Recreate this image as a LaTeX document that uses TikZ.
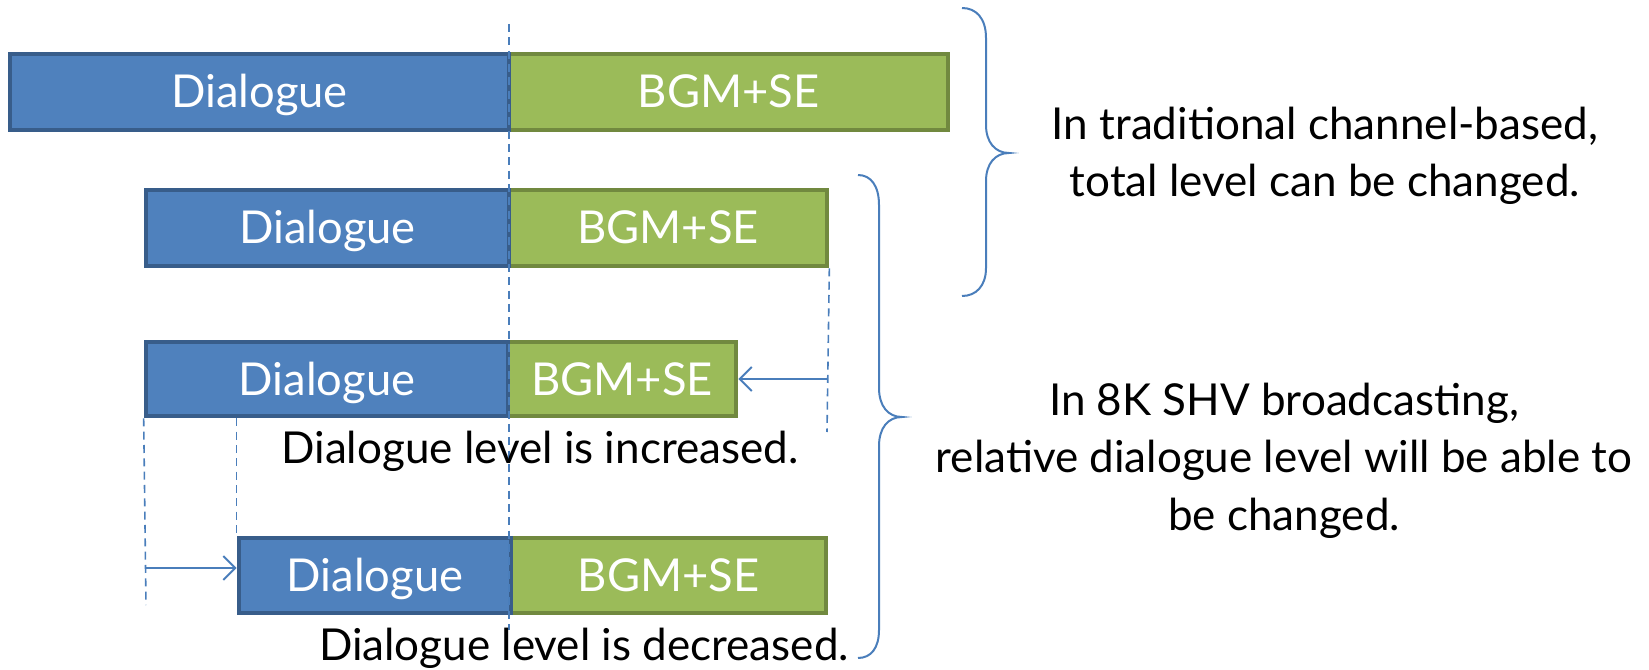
\documentclass[tikz,border=0pt]{standalone}
\usepackage{fontspec}
\setmainfont{Lato}
\usetikzlibrary{arrows.meta}
\definecolor{dlgfill}{HTML}{4F81BD}
\definecolor{dlgline}{HTML}{385D8A}
\definecolor{bgmfill}{HTML}{9BBB59}
\definecolor{bgmline}{HTML}{71893F}
\definecolor{guide}{HTML}{4A7EBB}
\begin{document}
\begin{tikzpicture}[x=0.75pt,y=-0.75pt,
 barsize/.style 2 args={minimum width=#1*0.75pt, minimum height=#2*0.75pt},
 barbase/.style={draw, rectangle, line width=3.5pt, inner sep=0pt, text=white, font=\fontsize{34}{40}\selectfont, text height=24pt, text depth=0pt},
 dlgbar/.style={barbase, fill=dlgfill, draw=dlgline},
 bgmbar/.style={barbase, fill=bgmfill, draw=bgmline},
 guideline/.style={draw=guide, line width=1.2pt, dash pattern=on 6pt off 4pt},
 pointer/.style={draw=guide, line width=1.5pt, -{Straight Barb[length=9pt,width=18pt]}},
 bracket/.style={draw=guide, line width=1.5pt},
 caption/.style={font=\fontsize{33}{43}\selectfont, anchor=base, align=center}
]
\useasboundingbox (0,0) rectangle (1649,670);
% bars
\node[bgmbar, barsize={439}{76}] (g1) at (728.5,92) {BGM+SE};
\node[dlgbar, barsize={499}{76}] (d1) at (259.5,92) {Dialogue};
\node[bgmbar, barsize={318}{76}] (g2) at (668,228) {BGM+SE};
\node[dlgbar, barsize={363}{76}] (d2) at (327.5,228) {Dialogue};
\node[bgmbar, barsize={228}{74}] (g3) at (622,379) {BGM+SE};
\node[dlgbar, barsize={362}{74}] (d3) at (327,379) {Dialogue};
\node[bgmbar, barsize={315}{75}] (g4) at (668.5,575.5) {BGM+SE};
\node[dlgbar, barsize={272}{75}] (d4) at (375,575.5) {Dialogue};
% guide lines
\coordinate (vtop) at (509,24);
\coordinate (vbot) at (509,630);
\draw[guideline] (vtop) -- (vbot);
\coordinate (rtick) at (827,432);
\draw[guideline] (g2.south east) -- (rtick);
\coordinate (ltick) at (146,605);
\draw[guideline] (d3.south west) -- (ltick);
\draw[guideline] (d4.north west |- d3.south) -- (d4.north west);
% arrows
\coordinate (pa) at (827,379);
\draw[pointer] (pa) -- (g3.east);
\coordinate (pb) at (146,568);
\draw[pointer] (pb) -- (d4.west |- pb);
% captions
\node[caption] (inc) at (540,463) {Dialogue level is increased.};
\node[caption] (dec) at (584,660) {Dialogue level is decreased.};
\node[caption] (trad) at (1325,197) {In traditional channel-based,\\ total level can be changed.};
\node[caption] (shv) at (1284,530) {In 8K SHV broadcasting,\\ relative dialogue level will be able to\\ be changed.};
% braces
\draw[bracket] (962,8) .. controls (976,8) and (986,18) .. (986,38) -- (986,125)
  .. controls (986,142) and (995,153) .. (1009,153)
  .. controls (995,153) and (986,164) .. (986,181) -- (986,268)
  .. controls (986,286) and (976,296) .. (962,296);
\draw[bracket] (858,175) .. controls (871,175) and (879,186) .. (879,205) -- (879,388)
  .. controls (879,406) and (888,417) .. (902,417)
  .. controls (888,417) and (879,428) .. (879,446) -- (879,630)
  .. controls (879,648) and (871,658) .. (858,658);
\end{tikzpicture}
\end{document}
